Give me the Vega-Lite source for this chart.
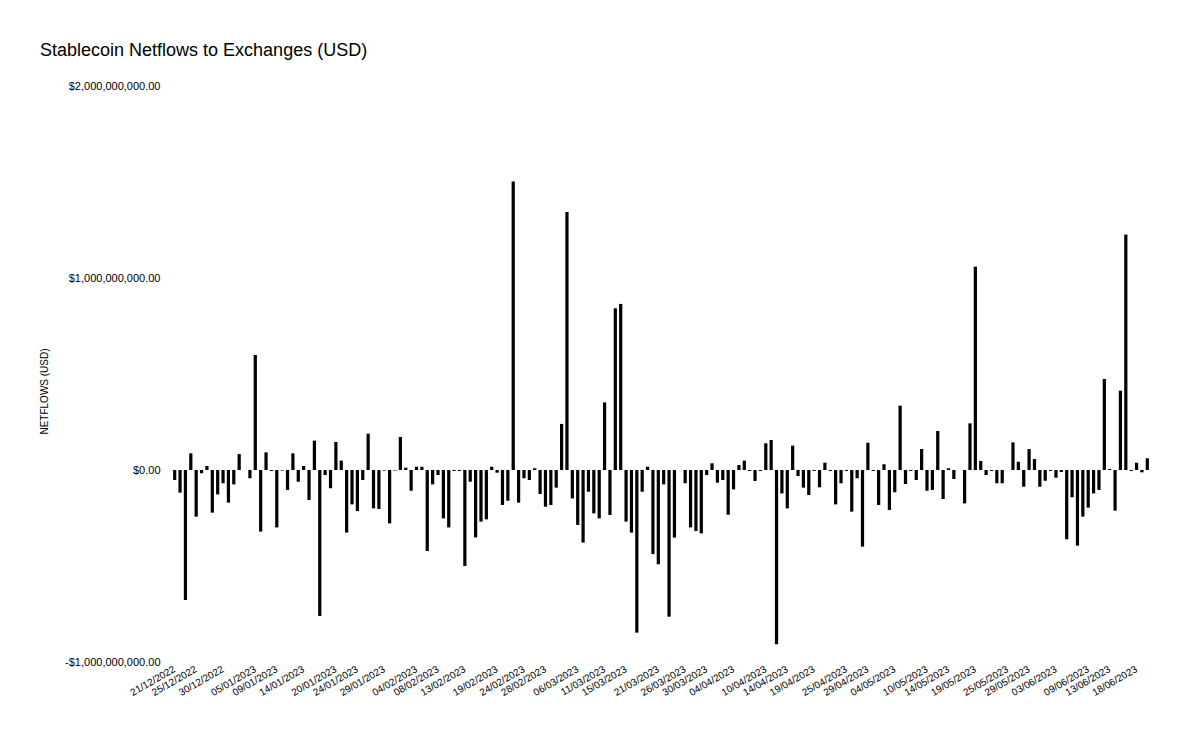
{
  "$schema": "https://vega.github.io/schema/vega-lite/v6.json",
  "autosize": {"type": "none"},
  "padding": {"left": 172, "top": 86, "right": 39, "bottom": 76},
  "width": 978,
  "height": 576,
  "background": "white",
  "title": {
    "text": "Stablecoin Netflows to Exchanges (USD)",
    "anchor": "start",
    "frame": "group",
    "dx": -132,
    "fontSize": 18,
    "fontWeight": "normal",
    "font": "Liberation Sans",
    "color": "#000000",
    "offset": 20
  },
  "config": {
    "font": "Liberation Sans",
    "view": {"stroke": null}
  },
  "data": {
    "values": [
      {"date": "21/12/2022", "netflow": -52000000},
      {"date": "22/12/2022", "netflow": -118000000},
      {"date": "23/12/2022", "netflow": -677000000},
      {"date": "24/12/2022", "netflow": 87000000},
      {"date": "25/12/2022", "netflow": -243000000},
      {"date": "26/12/2022", "netflow": -17000000},
      {"date": "27/12/2022", "netflow": 21000000},
      {"date": "28/12/2022", "netflow": -222000000},
      {"date": "29/12/2022", "netflow": -127000000},
      {"date": "30/12/2022", "netflow": -69000000},
      {"date": "31/12/2022", "netflow": -170000000},
      {"date": "01/01/2023", "netflow": -75000000},
      {"date": "02/01/2023", "netflow": 83000000},
      {"date": "03/01/2023", "netflow": 0},
      {"date": "04/01/2023", "netflow": -43000000},
      {"date": "05/01/2023", "netflow": 599000000},
      {"date": "06/01/2023", "netflow": -321000000},
      {"date": "07/01/2023", "netflow": 92000000},
      {"date": "08/01/2023", "netflow": -5000000},
      {"date": "09/01/2023", "netflow": -299000000},
      {"date": "10/01/2023", "netflow": -3000000},
      {"date": "11/01/2023", "netflow": -104000000},
      {"date": "12/01/2023", "netflow": 87000000},
      {"date": "13/01/2023", "netflow": -61000000},
      {"date": "14/01/2023", "netflow": 21000000},
      {"date": "15/01/2023", "netflow": -156000000},
      {"date": "16/01/2023", "netflow": 153000000},
      {"date": "17/01/2023", "netflow": -760000000},
      {"date": "18/01/2023", "netflow": -26000000},
      {"date": "19/01/2023", "netflow": -95000000},
      {"date": "20/01/2023", "netflow": 146000000},
      {"date": "21/01/2023", "netflow": 49000000},
      {"date": "22/01/2023", "netflow": -326000000},
      {"date": "23/01/2023", "netflow": -179000000},
      {"date": "24/01/2023", "netflow": -214000000},
      {"date": "25/01/2023", "netflow": -52000000},
      {"date": "26/01/2023", "netflow": 189000000},
      {"date": "27/01/2023", "netflow": -200000000},
      {"date": "28/01/2023", "netflow": -203000000},
      {"date": "29/01/2023", "netflow": -3000000},
      {"date": "30/01/2023", "netflow": -278000000},
      {"date": "31/01/2023", "netflow": -3000000},
      {"date": "01/02/2023", "netflow": 172000000},
      {"date": "02/02/2023", "netflow": 12000000},
      {"date": "03/02/2023", "netflow": -108000000},
      {"date": "04/02/2023", "netflow": 17000000},
      {"date": "05/02/2023", "netflow": 17000000},
      {"date": "06/02/2023", "netflow": -422000000},
      {"date": "07/02/2023", "netflow": -75000000},
      {"date": "08/02/2023", "netflow": -26000000},
      {"date": "09/02/2023", "netflow": -252000000},
      {"date": "10/02/2023", "netflow": -299000000},
      {"date": "11/02/2023", "netflow": -5000000},
      {"date": "12/02/2023", "netflow": -5000000},
      {"date": "13/02/2023", "netflow": -500000000},
      {"date": "14/02/2023", "netflow": -61000000},
      {"date": "15/02/2023", "netflow": -351000000},
      {"date": "16/02/2023", "netflow": -269000000},
      {"date": "17/02/2023", "netflow": -257000000},
      {"date": "18/02/2023", "netflow": 17000000},
      {"date": "19/02/2023", "netflow": -14000000},
      {"date": "20/02/2023", "netflow": -182000000},
      {"date": "21/02/2023", "netflow": -160000000},
      {"date": "22/02/2023", "netflow": 1502000000},
      {"date": "23/02/2023", "netflow": -170000000},
      {"date": "24/02/2023", "netflow": -43000000},
      {"date": "25/02/2023", "netflow": -52000000},
      {"date": "26/02/2023", "netflow": 9000000},
      {"date": "27/02/2023", "netflow": -125000000},
      {"date": "28/02/2023", "netflow": -191000000},
      {"date": "01/03/2023", "netflow": -182000000},
      {"date": "02/03/2023", "netflow": -92000000},
      {"date": "03/03/2023", "netflow": 240000000},
      {"date": "04/03/2023", "netflow": 1344000000},
      {"date": "05/03/2023", "netflow": -148000000},
      {"date": "06/03/2023", "netflow": -286000000},
      {"date": "07/03/2023", "netflow": -378000000},
      {"date": "08/03/2023", "netflow": -113000000},
      {"date": "09/03/2023", "netflow": -226000000},
      {"date": "10/03/2023", "netflow": -252000000},
      {"date": "11/03/2023", "netflow": 352000000},
      {"date": "12/03/2023", "netflow": -234000000},
      {"date": "13/03/2023", "netflow": 842000000},
      {"date": "14/03/2023", "netflow": 865000000},
      {"date": "15/03/2023", "netflow": -269000000},
      {"date": "16/03/2023", "netflow": -326000000},
      {"date": "17/03/2023", "netflow": -847000000},
      {"date": "18/03/2023", "netflow": -113000000},
      {"date": "19/03/2023", "netflow": 17000000},
      {"date": "20/03/2023", "netflow": -438000000},
      {"date": "21/03/2023", "netflow": -491000000},
      {"date": "22/03/2023", "netflow": -75000000},
      {"date": "23/03/2023", "netflow": -764000000},
      {"date": "24/03/2023", "netflow": -352000000},
      {"date": "25/03/2023", "netflow": 0},
      {"date": "26/03/2023", "netflow": -69000000},
      {"date": "27/03/2023", "netflow": -299000000},
      {"date": "28/03/2023", "netflow": -318000000},
      {"date": "29/03/2023", "netflow": -330000000},
      {"date": "30/03/2023", "netflow": -26000000},
      {"date": "31/03/2023", "netflow": 35000000},
      {"date": "01/04/2023", "netflow": -66000000},
      {"date": "02/04/2023", "netflow": -52000000},
      {"date": "03/04/2023", "netflow": -233000000},
      {"date": "04/04/2023", "netflow": -101000000},
      {"date": "05/04/2023", "netflow": 26000000},
      {"date": "06/04/2023", "netflow": 49000000},
      {"date": "07/04/2023", "netflow": -5000000},
      {"date": "08/04/2023", "netflow": -57000000},
      {"date": "09/04/2023", "netflow": -5000000},
      {"date": "10/04/2023", "netflow": 139000000},
      {"date": "11/04/2023", "netflow": 156000000},
      {"date": "12/04/2023", "netflow": -908000000},
      {"date": "13/04/2023", "netflow": -122000000},
      {"date": "14/04/2023", "netflow": -200000000},
      {"date": "15/04/2023", "netflow": 127000000},
      {"date": "16/04/2023", "netflow": -31000000},
      {"date": "17/04/2023", "netflow": -92000000},
      {"date": "18/04/2023", "netflow": -130000000},
      {"date": "19/04/2023", "netflow": -5000000},
      {"date": "20/04/2023", "netflow": -90000000},
      {"date": "21/04/2023", "netflow": 38000000},
      {"date": "22/04/2023", "netflow": -5000000},
      {"date": "23/04/2023", "netflow": -179000000},
      {"date": "24/04/2023", "netflow": -69000000},
      {"date": "25/04/2023", "netflow": -5000000},
      {"date": "26/04/2023", "netflow": -217000000},
      {"date": "27/04/2023", "netflow": -43000000},
      {"date": "28/04/2023", "netflow": -399000000},
      {"date": "29/04/2023", "netflow": 142000000},
      {"date": "30/04/2023", "netflow": -5000000},
      {"date": "01/05/2023", "netflow": -182000000},
      {"date": "02/05/2023", "netflow": 30000000},
      {"date": "03/05/2023", "netflow": -208000000},
      {"date": "04/05/2023", "netflow": -116000000},
      {"date": "05/05/2023", "netflow": 335000000},
      {"date": "06/05/2023", "netflow": -73000000},
      {"date": "07/05/2023", "netflow": -5000000},
      {"date": "08/05/2023", "netflow": -52000000},
      {"date": "09/05/2023", "netflow": 109000000},
      {"date": "10/05/2023", "netflow": -108000000},
      {"date": "11/05/2023", "netflow": -104000000},
      {"date": "12/05/2023", "netflow": 203000000},
      {"date": "13/05/2023", "netflow": -151000000},
      {"date": "14/05/2023", "netflow": 9000000},
      {"date": "15/05/2023", "netflow": -47000000},
      {"date": "16/05/2023", "netflow": 0},
      {"date": "17/05/2023", "netflow": -174000000},
      {"date": "18/05/2023", "netflow": 243000000},
      {"date": "19/05/2023", "netflow": 1059000000},
      {"date": "20/05/2023", "netflow": 47000000},
      {"date": "21/05/2023", "netflow": -26000000},
      {"date": "22/05/2023", "netflow": -5000000},
      {"date": "23/05/2023", "netflow": -69000000},
      {"date": "24/05/2023", "netflow": -69000000},
      {"date": "25/05/2023", "netflow": 0},
      {"date": "26/05/2023", "netflow": 144000000},
      {"date": "27/05/2023", "netflow": 43000000},
      {"date": "28/05/2023", "netflow": -87000000},
      {"date": "29/05/2023", "netflow": 109000000},
      {"date": "30/05/2023", "netflow": 57000000},
      {"date": "31/05/2023", "netflow": -87000000},
      {"date": "01/06/2023", "netflow": -56000000},
      {"date": "02/06/2023", "netflow": -5000000},
      {"date": "03/06/2023", "netflow": -40000000},
      {"date": "04/06/2023", "netflow": -10000000},
      {"date": "05/06/2023", "netflow": -361000000},
      {"date": "06/06/2023", "netflow": -142000000},
      {"date": "07/06/2023", "netflow": -394000000},
      {"date": "08/06/2023", "netflow": -243000000},
      {"date": "09/06/2023", "netflow": -196000000},
      {"date": "10/06/2023", "netflow": -122000000},
      {"date": "11/06/2023", "netflow": -104000000},
      {"date": "12/06/2023", "netflow": 474000000},
      {"date": "13/06/2023", "netflow": 5000000},
      {"date": "14/06/2023", "netflow": -212000000},
      {"date": "15/06/2023", "netflow": 413000000},
      {"date": "16/06/2023", "netflow": 1226000000},
      {"date": "17/06/2023", "netflow": -5000000},
      {"date": "18/06/2023", "netflow": 38000000},
      {"date": "19/06/2023", "netflow": -12000000},
      {"date": "20/06/2023", "netflow": 61000000}
    ]
  },
  "mark": {"type": "bar", "color": "#000000"},
  "encoding": {
    "x": {
      "field": "date",
      "type": "ordinal",
      "sort": null,
      "scale": {"paddingInner": 0.4, "paddingOuter": 0.2},
      "axis": {
        "title": null,
        "values": ["21/12/2022", "25/12/2022", "30/12/2022", "05/01/2023", "09/01/2023", "14/01/2023", "20/01/2023", "24/01/2023", "29/01/2023", "04/02/2023", "08/02/2023", "13/02/2023", "19/02/2023", "24/02/2023", "28/02/2023", "06/03/2023", "11/03/2023", "15/03/2023", "21/03/2023", "26/03/2023", "30/03/2023", "04/04/2023", "10/04/2023", "14/04/2023", "19/04/2023", "25/04/2023", "29/04/2023", "04/05/2023", "10/05/2023", "14/05/2023", "19/05/2023", "25/05/2023", "29/05/2023", "03/06/2023", "09/06/2023", "13/06/2023", "18/06/2023"],
        "labelAngle": -30,
        "labelAlign": "right",
        "labelBaseline": "middle",
        "labelFontSize": 10,
        "labelColor": "#000000",
        "labelPadding": 6,
        "labelOverlap": false,
        "ticks": false,
        "domain": false,
        "grid": false
      }
    },
    "y": {
      "field": "netflow",
      "type": "quantitative",
      "scale": {"domain": [-1000000000, 2000000000], "nice": false, "zero": false},
      "axis": {
        "title": "NETFLOWS (USD)",
        "titleFontSize": 10,
        "titleFontWeight": "normal",
        "titleColor": "#000000",
        "titleX": -123,
        "titleY": 305,
        "titleAngle": -90,
        "values": [-1000000000, 0, 1000000000, 2000000000],
        "labelExpr": "(datum.value < 0 ? '-' : '') + format(abs(datum.value), '$,.2f')",
        "labelFontSize": 11,
        "labelColor": "#000000",
        "labelPadding": 12,
        "ticks": false,
        "domain": false,
        "grid": false
      }
    }
  }
}
